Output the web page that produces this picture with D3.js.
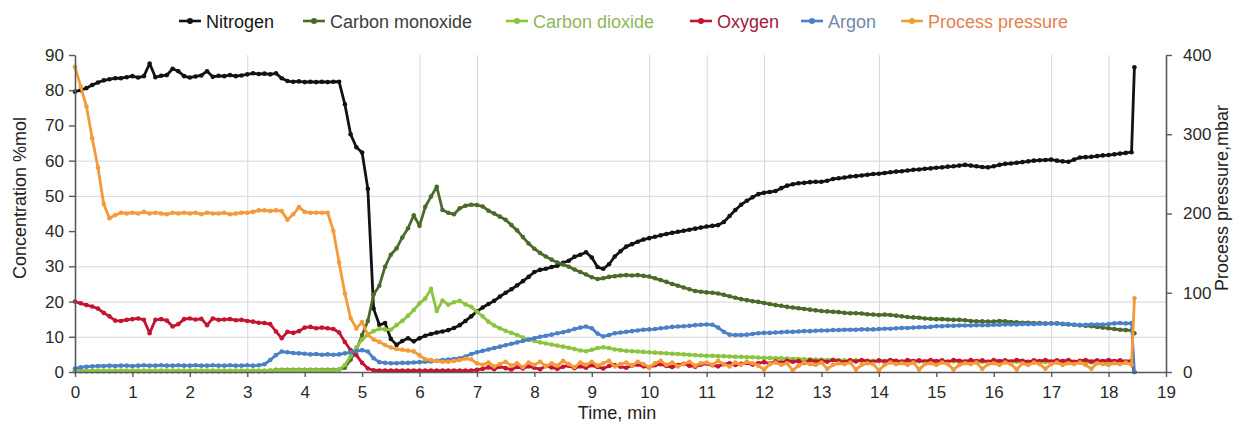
<!DOCTYPE html>
<html>
<head>
<meta charset="utf-8">
<script src="https://cdn.jsdelivr.net/npm/d3@7/dist/d3.min.js"></script>
<style>
  html, body { margin: 0; padding: 0; background: #fff; }
  svg { display: block; font-family: "Liberation Sans", Arial, Helvetica, sans-serif; }
</style>
</head>
<body>
<svg id="chart" width="1242" height="430"></svg>
<script>
// Sampling times, min
const time = [
  0.0, 0.1, 0.2, 0.3, 0.4, 0.5, 0.6, 0.7, 0.8, 0.9,
  1.0, 1.1, 1.2, 1.3, 1.4, 1.5, 1.6, 1.7, 1.8, 1.9,
  2.0, 2.1, 2.2, 2.3, 2.4, 2.5, 2.6, 2.7, 2.8, 2.9,
  3.0, 3.1, 3.2, 3.3, 3.4, 3.5, 3.6, 3.7, 3.8, 3.9,
  4.0, 4.1, 4.2, 4.3, 4.4, 4.5, 4.6, 4.7, 4.8, 4.9,
  5.0, 5.1, 5.2, 5.3, 5.4, 5.5, 5.6, 5.7, 5.8, 5.9,
  6.0, 6.1, 6.2, 6.3, 6.4, 6.5, 6.6, 6.7, 6.8, 6.9,
  7.0, 7.1, 7.2, 7.3, 7.4, 7.5, 7.6, 7.7, 7.8, 7.9,
  8.0, 8.1, 8.2, 8.3, 8.4, 8.5, 8.6, 8.7, 8.8, 8.9,
  9.0, 9.1, 9.2, 9.3, 9.4, 9.5, 9.6, 9.7, 9.8, 9.9,
  10.0, 10.1, 10.2, 10.3, 10.4, 10.5, 10.6, 10.7, 10.8, 10.9,
  11.0, 11.1, 11.2, 11.3, 11.4, 11.5, 11.6, 11.7, 11.8, 11.9,
  12.0, 12.1, 12.2, 12.3, 12.4, 12.5, 12.6, 12.7, 12.8, 12.9,
  13.0, 13.1, 13.2, 13.3, 13.4, 13.5, 13.6, 13.7, 13.8, 13.9,
  14.0, 14.1, 14.2, 14.3, 14.4, 14.5, 14.6, 14.7, 14.8, 14.9,
  15.0, 15.1, 15.2, 15.3, 15.4, 15.5, 15.6, 15.7, 15.8, 15.9,
  16.0, 16.1, 16.2, 16.3, 16.4, 16.5, 16.6, 16.7, 16.8, 16.9,
  17.0, 17.1, 17.2, 17.3, 17.4, 17.5, 17.6, 17.7, 17.8, 17.9,
  18.0, 18.1, 18.2, 18.3, 18.4, 18.45
];

// Gas concentrations, %mol
const nitrogen = [
  79.6, 80.0, 80.6, 81.5, 82.2, 82.8, 83.1, 83.4, 83.4, 83.7,
  84.0, 83.6, 84.0, 87.6, 83.7, 84.1, 84.3, 86.1, 85.4, 84.0,
  83.6, 83.9, 84.2, 85.4, 83.8, 84.1, 84.0, 84.3, 84.0, 84.2,
  84.5, 84.8, 84.6, 84.7, 84.5, 84.8, 83.4, 82.6, 82.4, 82.5,
  82.3, 82.4, 82.3, 82.4, 82.3, 82.4, 82.4, 76.0, 67.5, 63.8,
  62.3, 52.0, 18.0, 13.4, 13.9, 9.4, 7.7, 8.8, 9.6, 8.7,
  9.6, 10.3, 10.8, 11.2, 11.5, 11.9, 12.5, 13.3, 14.5, 15.8,
  17.2, 18.3, 19.3, 20.2, 21.4, 22.5, 23.5, 24.6, 25.8, 27.0,
  28.4, 29.0, 29.3, 29.8, 30.2, 31.0, 31.6, 32.7, 33.3, 34.0,
  32.5, 29.8, 29.3, 30.6, 32.8, 34.3, 35.6, 36.3, 37.0, 37.6,
  38.0, 38.4, 38.8, 39.2, 39.5, 39.8, 40.1, 40.4, 40.7, 41.0,
  41.3, 41.5, 41.7, 42.6, 44.3, 46.0, 47.5, 48.6, 49.6, 50.5,
  50.9, 51.1, 51.4, 52.2, 52.9, 53.3, 53.6, 53.7, 53.9, 54.0,
  54.0, 54.3, 54.8, 55.0, 55.2, 55.5, 55.6, 55.8, 56.0, 56.2,
  56.3, 56.5, 56.7, 56.9, 57.0, 57.2, 57.4, 57.5, 57.7, 57.8,
  58.0, 58.1, 58.3, 58.4, 58.6, 58.8, 58.6, 58.4, 58.2, 58.1,
  58.4, 58.8, 59.1, 59.2, 59.4, 59.6, 59.8, 60.0, 60.1, 60.2,
  60.3, 60.0, 59.8, 59.7, 60.3, 60.9, 61.0, 61.1, 61.3, 61.5,
  61.6, 61.8, 62.0, 62.2, 62.4, 86.5
];

const carbonMonoxide = [
  0.2, 0.2, 0.2, 0.2, 0.2, 0.2, 0.2, 0.2, 0.2, 0.2,
  0.2, 0.2, 0.2, 0.2, 0.2, 0.2, 0.2, 0.2, 0.2, 0.2,
  0.2, 0.2, 0.2, 0.2, 0.2, 0.2, 0.2, 0.2, 0.2, 0.2,
  0.2, 0.2, 0.2, 0.2, 0.3, 0.6, 0.6, 0.6, 0.6, 0.6,
  0.6, 0.6, 0.6, 0.6, 0.6, 0.6, 0.7, 1.2, 3.5, 6.2,
  10.5, 14.5, 22.0, 24.5, 29.9, 33.3, 35.1, 38.2, 40.8, 44.5,
  41.5, 46.9, 49.8, 52.6, 46.0, 45.2, 44.8, 46.5, 47.2, 47.5,
  47.4, 47.0, 45.8, 45.0, 44.1, 43.2, 41.7, 40.2, 38.3, 36.5,
  35.0, 33.8, 32.8, 31.9, 31.1, 30.5, 29.9, 29.1, 28.4, 27.7,
  26.9, 26.4, 26.6, 27.0, 27.2, 27.4, 27.5, 27.4, 27.5, 27.3,
  27.1, 26.6, 26.1, 25.6, 25.0, 24.5, 24.0, 23.5, 23.0, 22.8,
  22.6, 22.5, 22.3, 21.9, 21.5, 21.1, 20.7, 20.4, 20.1, 19.9,
  19.6, 19.3, 19.0, 18.8, 18.5, 18.3, 18.1, 17.9, 17.7, 17.5,
  17.3, 17.2, 17.1, 17.0, 16.8, 16.7, 16.7, 16.6, 16.4, 16.3,
  16.2, 16.3, 16.2, 16.0, 15.8, 15.6, 15.5, 15.4, 15.2, 15.1,
  15.0, 15.0, 14.9, 14.8, 14.8, 14.7, 14.5, 14.4, 14.4, 14.3,
  14.3, 14.5, 14.4, 14.2, 14.1, 14.0, 14.0, 13.9, 13.9, 13.8,
  13.8, 13.8, 13.6, 13.5, 13.4, 13.3, 13.1, 13.0, 12.8, 12.6,
  12.4, 12.2, 12.0, 11.9, 11.8, 11.0
];

const carbonDioxide = [
  0.4, 0.4, 0.4, 0.4, 0.4, 0.4, 0.4, 0.4, 0.4, 0.4,
  0.4, 0.4, 0.4, 0.4, 0.4, 0.4, 0.4, 0.4, 0.4, 0.4,
  0.4, 0.4, 0.4, 0.4, 0.4, 0.4, 0.4, 0.4, 0.4, 0.4,
  0.4, 0.4, 0.4, 0.4, 0.5, 0.5, 0.5, 0.5, 0.5, 0.5,
  0.5, 0.5, 0.5, 0.5, 0.5, 0.5, 0.6, 2.0, 4.5, 7.0,
  9.2, 10.6, 11.6, 12.3, 12.1, 12.0, 13.3, 14.5, 16.0, 17.6,
  19.5, 20.9, 23.6, 17.3, 20.3, 19.1, 19.8, 20.2, 19.2, 18.5,
  17.1, 15.8, 14.3, 13.2, 12.4, 11.7, 11.1, 10.5, 9.8, 9.2,
  8.8, 8.4, 8.1, 7.8, 7.5, 7.2, 6.9, 6.5, 6.1, 5.9,
  6.3, 6.8, 7.0, 6.8, 6.4, 6.2, 6.0, 5.9, 5.8, 5.7,
  5.6, 5.5, 5.4, 5.3, 5.2, 5.1, 5.0, 4.9, 4.8, 4.7,
  4.6, 4.6, 4.5, 4.5, 4.4, 4.3, 4.3, 4.2, 4.2, 4.1,
  4.0, 4.0, 3.9, 3.9, 3.8, 3.7, 3.7, 3.6, 3.6, 3.5,
  3.5, 3.4, 3.4, 3.4, 3.3, 3.3, 3.3, 3.2, 3.2, 3.2,
  3.1, 3.1, 3.1, 3.1, 3.1, 3.0, 3.0, 3.0, 3.0, 3.0,
  3.0, 3.0, 3.0, 3.0, 3.0, 2.9, 2.9, 2.9, 2.9, 2.9,
  2.9, 2.9, 2.9, 2.9, 2.9, 2.8, 2.8, 2.8, 2.8, 2.8,
  2.8, 2.8, 2.8, 2.8, 2.8, 2.7, 2.7, 2.7, 2.7, 2.7,
  2.7, 2.7, 2.6, 2.6, 2.6, 0.0
];

const oxygen = [
  20.0, 19.5, 19.0, 18.6, 18.0, 16.8, 15.8, 14.6, 14.5, 14.8,
  15.0, 15.2, 14.8, 11.0, 14.8, 15.0, 14.6, 12.9, 13.6, 15.0,
  15.2, 14.9, 15.1, 13.3, 15.2, 14.8, 14.9, 15.0, 14.7, 14.8,
  14.5, 14.3, 14.0, 13.9, 13.6, 11.5, 9.6, 11.4, 11.1, 11.6,
  12.6, 12.8, 12.4, 12.6, 12.4, 12.2, 11.2, 8.5, 6.2, 4.8,
  2.6, 1.0, 0.5, 0.4, 0.4, 0.4, 0.4, 0.4, 0.4, 0.4,
  0.4, 0.4, 0.4, 0.4, 0.4, 0.4, 0.4, 0.4, 0.4, 0.4,
  0.6, 0.9, 1.3, 0.8, 1.5, 1.1, 0.7, 1.4, 1.0, 1.6,
  1.2, 0.8, 1.7, 1.3, 0.9, 1.5, 1.8, 1.1, 1.6, 1.2,
  1.9, 1.4, 1.0, 1.7, 2.0, 1.5, 1.2, 1.8, 2.1, 1.6,
  1.3, 1.9, 2.2, 1.7, 1.4, 2.0, 2.3, 1.8, 1.5, 2.1,
  2.4, 1.9, 1.6, 2.2, 2.5, 2.0, 2.3, 2.6, 2.1, 2.5,
  2.8, 2.4, 3.0, 2.7, 3.2, 2.9, 3.1, 2.6, 3.3, 3.0,
  3.2, 2.9, 3.4, 3.1, 2.8, 3.3, 3.0, 3.4, 3.1, 2.9,
  3.3, 3.0, 3.4, 3.2, 2.9, 3.4, 3.1, 3.3, 3.0, 3.4,
  3.1, 3.3, 2.9, 3.4, 3.2, 3.0, 3.4, 3.1, 3.3, 2.9,
  3.4, 3.1, 3.3, 3.0, 3.4, 3.2, 2.9, 3.3, 3.1, 3.4,
  3.0, 3.3, 3.1, 3.4, 2.9, 3.2, 3.4, 3.0, 3.3, 3.1,
  3.4, 3.1, 3.3, 3.0, 3.2, 0.0
];

const argon = [
  1.0, 1.3, 1.5, 1.6, 1.7, 1.7, 1.8, 1.7, 1.8, 1.8,
  1.7, 1.8, 1.9, 1.8, 1.8, 1.9, 1.8, 1.8, 1.9, 1.8,
  1.8, 1.9, 1.8, 1.8, 1.9, 1.8, 1.8, 1.9, 1.8, 1.8,
  1.9, 1.8, 1.9, 2.2, 3.4, 4.8, 5.8, 5.6, 5.4, 5.3,
  5.2, 5.0, 5.1, 4.9, 5.0, 4.9, 5.0, 5.3, 5.6, 5.9,
  6.2, 5.8, 3.9, 2.8, 2.6, 2.5, 2.5, 2.6, 2.6, 2.7,
  2.8, 2.9, 3.0, 3.2, 3.4, 3.5, 3.7, 3.9, 4.4, 5.1,
  5.6, 6.0, 6.4, 6.8, 7.2, 7.6, 8.0, 8.4, 8.8, 9.2,
  9.6, 10.0, 10.3, 10.6, 11.0, 11.3, 11.7, 12.2, 12.6, 12.9,
  12.4, 10.9, 10.1, 10.5, 11.0, 11.2, 11.4, 11.6, 11.8, 12.0,
  12.1, 12.2, 12.4, 12.6, 12.8, 12.9, 13.0, 13.1, 13.3, 13.4,
  13.5, 13.4, 12.6, 11.4, 10.6, 10.5, 10.5, 10.6, 10.8, 11.0,
  11.1, 11.1, 11.2, 11.3, 11.4, 11.4, 11.5, 11.6, 11.6, 11.7,
  11.8, 11.8, 11.9, 11.9, 12.0, 12.0, 12.0, 12.1, 12.1, 12.1,
  12.2, 12.3, 12.3, 12.4, 12.5, 12.5, 12.6, 12.7, 12.7, 12.8,
  13.0, 13.0, 13.1, 13.1, 13.2, 13.2, 13.2, 13.3, 13.3, 13.3,
  13.4, 13.4, 13.5, 13.5, 13.5, 13.6, 13.6, 13.6, 13.7, 13.7,
  13.8, 13.8, 13.7, 13.6, 13.4, 13.3, 13.4, 13.5, 13.5, 13.5,
  13.6, 13.8, 13.9, 13.8, 13.9, 0.0
];

// Process pressure, mbar (right axis)
const processPressure = [
  385, 360, 335, 295, 258, 212, 194, 198, 201, 200,
  201, 200, 202, 200, 201, 200, 199, 201, 200, 201,
  200, 201, 199, 201, 200, 200, 201, 199, 200, 201,
  201, 202, 204, 204, 203, 204, 203, 192, 199, 208,
  202, 201, 201, 201, 201, 178, 138, 99, 68, 55,
  63, 47, 41, 38, 34, 31, 29, 28, 27, 26,
  21, 16, 15, 14, 13, 13, 14, 15, 17, 16,
  11, 9, 12, 7, 10, 13, 8, 11, 6, 12,
  9, 13, 7, 11, 8, 14, 10, 6, 12, 9,
  13, 8, 11, 14, 7, 10, 12, 8, 13, 10,
  6, 11, 14, 9, 12, 7, 10, 13, 8, 11,
  12, 9, 14, 10, 7, 12, 9, 13, 11, 8,
  3, 10, 12, 9, 11, 2, 8, 12, 10, 9,
  12, 4, 9, 11, 10, 12, 3, 9, 11, 10,
  2, 9, 12, 10, 11, 9, 12, 3, 10, 11,
  9, 12, 10, 3, 9, 11, 10, 12, 4, 10,
  11, 9, 12, 10, 3, 11, 9, 12, 10, 4,
  10, 12, 9, 11, 10, 12, 9, 4, 11, 10,
  9, 11, 10, 12, 9, 93
];

// Axis ticks and grid positions
const timeTicks = [0, 1, 2, 3, 4, 5, 6, 7, 8, 9, 10, 11, 12, 13, 14, 15, 16, 17, 18, 19];
const concentrationTicks = [0, 10, 20, 30, 40, 50, 60, 70, 80, 90];
const pressureTicks = [0, 100, 200, 300, 400];
const gridTimes = [3, 6, 7, 10, 11, 12, 14, 17, 18];
const gridConcentrations = [10, 20, 30, 50, 60];

const series = [
  { name: "Nitrogen",         values: nitrogen,        axis: "left",  color: "#121212", label: "#161616" },
  { name: "Carbon monoxide",  values: carbonMonoxide,  axis: "left",  color: "#4b6a2a", label: "#3c3c3c" },
  { name: "Carbon dioxide",   values: carbonDioxide,   axis: "left",  color: "#8cc43f", label: "#8fb75a" },
  { name: "Oxygen",           values: oxygen,          axis: "left",  color: "#c4142f", label: "#a3183b" },
  { name: "Argon",            values: argon,           axis: "left",  color: "#4a80c6", label: "#7089a6" },
  { name: "Process pressure", values: processPressure, axis: "right", color: "#f49a3a", label: "#e47f50" }
];

const svg = d3.select("#chart");
const plot = { left: 75, right: 1166, top: 55, bottom: 372 };

const x = d3.scaleLinear().domain([0, 19]).range([plot.left, plot.right]);
const yLeft = d3.scaleLinear().domain([0, 90]).range([plot.bottom, plot.top]);
const yRight = d3.scaleLinear().domain([0, 400]).range([plot.bottom, plot.top]);

// Grid
const grid = svg.append("g").attr("stroke", "#d6d6d6").attr("stroke-width", 1);
grid.selectAll("line.gx").data(gridTimes).join("line")
  .attr("x1", d => x(d) + 0.5).attr("x2", d => x(d) + 0.5)
  .attr("y1", plot.top).attr("y2", plot.bottom);
grid.selectAll("line.gy").data(gridConcentrations).join("line")
  .attr("x1", plot.left).attr("x2", plot.right)
  .attr("y1", d => yLeft(d) + 0.5).attr("y2", d => yLeft(d) + 0.5);

// Series lines with point markers
const seriesLayer = svg.append("g");
series.forEach(s => {
  const y = s.axis === "left" ? yLeft : yRight;
  const pts = time.map((t, i) => [t, s.values[i]]).filter(p => p[1] !== undefined);
  const g = seriesLayer.append("g");
  g.append("path")
    .datum(pts)
    .attr("fill", "none")
    .attr("stroke", s.color)
    .attr("stroke-width", 2.8)
    .attr("stroke-linejoin", "round")
    .attr("d", d3.line().x(p => x(p[0])).y(p => y(p[1])));
  g.selectAll("circle").data(pts).join("circle")
    .attr("cx", p => x(p[0]))
    .attr("cy", p => y(p[1]))
    .attr("r", 2.3)
    .attr("fill", s.color);
});

// Axes
function styleAxis(g) {
  g.selectAll("path.domain").attr("stroke", "#5a5a5a").attr("stroke-width", 1.6);
  g.selectAll(".tick line").attr("stroke", "#5a5a5a").attr("stroke-width", 1.4);
  g.selectAll(".tick text").attr("fill", "#2a2a2a").style("font-size", "17px")
    .style("font-family", "\"Liberation Sans\", Arial, sans-serif");
}

svg.append("g")
  .attr("transform", `translate(0,${plot.bottom})`)
  .call(d3.axisBottom(x).tickValues(timeTicks).tickFormat(d3.format("d"))
    .tickSizeInner(5).tickSizeOuter(0).tickPadding(9))
  .call(styleAxis);

svg.append("g")
  .attr("transform", `translate(${plot.left},0)`)
  .call(d3.axisLeft(yLeft).tickValues(concentrationTicks).tickFormat(d3.format("d"))
    .tickSizeInner(6).tickSizeOuter(0).tickPadding(5))
  .call(styleAxis);

svg.append("g")
  .attr("transform", `translate(${plot.right},0)`)
  .call(d3.axisRight(yRight).tickValues(pressureTicks).tickFormat(d3.format("d"))
    .tickSizeInner(6).tickSizeOuter(0).tickPadding(11))
  .call(styleAxis);

// Axis titles
svg.append("text")
  .attr("x", 617).attr("y", 419)
  .attr("text-anchor", "middle")
  .attr("fill", "#222").style("font-size", "18px")
  .text("Time, min");

svg.append("text")
  .attr("transform", "translate(26,198) rotate(-90)")
  .attr("text-anchor", "middle")
  .attr("fill", "#222").style("font-size", "18px")
  .text("Concentration %mol");

svg.append("text")
  .attr("transform", "translate(1228,198) rotate(-90)")
  .attr("text-anchor", "middle")
  .attr("fill", "#222").style("font-size", "18px")
  .text("Process pressure,mbar");

// Legend
const legendX = [179, 303, 506, 690, 801, 901];
const legend = svg.append("g");
series.forEach((s, i) => {
  const g = legend.append("g").attr("transform", `translate(${legendX[i]},21)`);
  g.append("line").attr("x1", 0).attr("x2", 22).attr("y1", 0).attr("y2", 0)
    .attr("stroke", s.color).attr("stroke-width", 2.6);
  g.append("circle").attr("cx", 11).attr("cy", 0).attr("r", 3).attr("fill", s.color);
  g.append("text").attr("x", 27).attr("y", 6.5)
    .attr("fill", s.label).style("font-size", "18px")
    .text(s.name);
});
</script>
</body>
</html>
